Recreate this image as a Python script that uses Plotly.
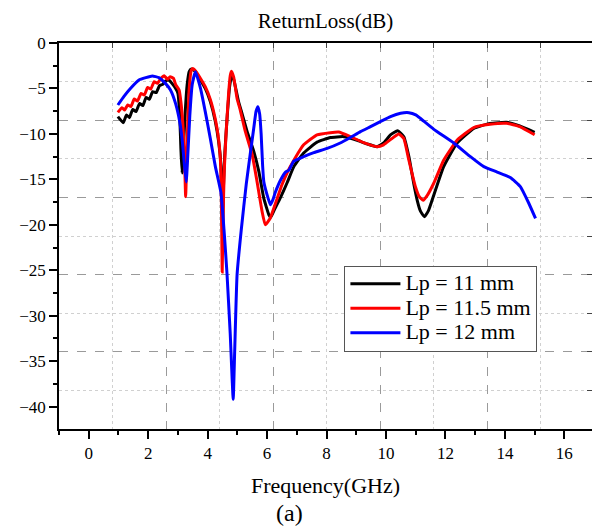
import plotly.graph_objects as go

# ---- data ----
freq_11 = [0.98, 1.16, 1.27, 1.37, 1.48, 1.59, 1.71, 1.82, 1.93, 2.04, 2.15, 2.27, 2.38, 2.49, 2.58, 2.69,
           2.80, 2.92, 3.00, 3.06, 3.10, 3.14, 3.20, 3.26, 3.31, 3.38, 3.45, 3.59, 3.76, 3.92, 4.09, 4.26,
           4.37, 4.45, 4.48, 4.50, 4.53, 4.58, 4.66, 4.74, 4.82, 4.92, 5.04, 5.16, 5.33, 5.55, 5.72, 5.89,
           6.06, 6.12, 6.25, 6.45, 6.67, 6.90, 7.23, 7.68, 8.13, 8.58, 9.03, 9.36, 9.70, 9.92, 10.15, 10.39,
           10.60, 10.77, 10.93, 11.05, 11.16, 11.29, 11.42, 11.55, 11.94, 12.39, 12.95, 13.50, 14.06, 14.50, 15.00]
rl_11 = [-8.10, -8.76, -7.92, -8.21, -7.30, -7.55, -6.64, -6.89, -5.98, -6.20, -5.35, -5.46, -4.69, -4.55, -4.18, -4.07,
         -4.44, -4.99, -5.53, -7.92, -11.6, -14.3, -10.5, -6.82, -4.62, -3.15, -2.86, -3.15, -4.07, -4.99, -6.45, -8.65,
         -10.85, -13.5, -18.0, -21.0, -16.0, -12.0, -8.0, -4.8, -3.3, -4.6, -6.45, -7.8, -9.75, -11.9, -14.1, -17.1,
         -18.9, -19.2, -18.3, -17.0, -15.4, -13.6, -12.1, -10.9, -10.4, -10.3, -10.7, -11.1, -11.4, -11.0, -10.1, -9.64,
         -10.3, -12.5, -15.4, -17.3, -18.5, -19.1, -18.5, -17.3, -13.6, -11.0, -9.39, -8.84, -8.73, -9.13, -9.83]

freq_115 = [0.98, 1.12, 1.21, 1.31, 1.42, 1.53, 1.64, 1.76, 1.87, 1.98, 2.09, 2.20, 2.31, 2.43, 2.54, 2.65,
            2.74, 2.85, 2.93, 3.04, 3.10, 3.16, 3.22, 3.26, 3.32, 3.38, 3.45, 3.50, 3.60, 3.76, 3.92, 4.09,
            4.26, 4.37, 4.44, 4.47, 4.49, 4.52, 4.56, 4.62, 4.70, 4.76, 4.80, 4.88, 4.99, 5.10, 5.27, 5.50,
            5.66, 5.83, 5.94, 6.10, 6.34, 6.50, 6.67, 6.90, 7.23, 7.68, 8.13, 8.41, 8.80, 9.25, 9.70, 9.92,
            10.20, 10.43, 10.60, 10.77, 10.99, 11.12, 11.25, 11.40, 11.61, 11.94, 12.39, 12.95, 13.50, 14.06, 14.50, 15.00]
rl_115 = [-7.63, -7.11, -7.37, -6.82, -7.00, -6.16, -6.38, -5.54, -5.72, -4.88, -5.06, -4.25, -4.44, -3.89, -3.59, -4.00,
          -3.70, -3.89, -4.62, -5.17, -6.45, -8.65, -12.3, -16.9, -10.0, -5.0, -3.0, -2.8, -3.1, -3.9, -4.8, -6.2,
          -8.4, -10.6, -13.5, -19.0, -25.2, -19.0, -14.0, -10.0, -5.8, -3.6, -3.1, -3.8, -6.1, -7.4, -9.75, -12.3,
          -15.2, -18.5, -20.0, -19.3, -17.1, -15.6, -14.3, -12.9, -11.2, -10.1, -9.86, -9.8, -10.3, -10.96, -11.4, -11.2,
          -10.5, -10.0, -10.5, -12.9, -15.8, -16.9, -17.3, -16.7, -15.4, -12.9, -10.7, -9.3, -8.95, -8.84, -9.2, -10.1]

freq_12 = [0.98, 1.18, 1.41, 1.69, 1.92, 2.14, 2.36, 2.58, 2.75, 2.92, 3.06, 3.15, 3.22, 3.28, 3.33, 3.40,
           3.48, 3.59, 3.76, 3.92, 4.09, 4.26, 4.45, 4.55, 4.65, 4.76, 4.86, 4.91, 4.99, 5.13, 5.30, 5.43,
           5.55, 5.63, 5.69, 5.75, 5.80, 5.85, 5.89, 6.00, 6.11, 6.20, 6.28, 6.45, 6.62, 6.73, 6.90, 7.23,
           7.57, 8.02, 8.46, 8.80, 9.14, 9.48, 9.81, 10.15, 10.49, 10.77, 11.00, 11.16, 11.61, 12.28, 12.84, 13.29,
           13.74, 14.18, 14.52, 14.80, 15.03]
rl_12 = [-6.82, -5.90, -4.98, -4.07, -3.81, -3.63, -3.81, -4.44, -5.17, -6.64, -8.65, -10.85, -13.5, -15.3, -12.5, -8.0,
         -4.6, -3.15, -4.99, -7.55, -10.5, -13.6, -16.5, -20.5, -25.3, -32.0, -39.2, -33.9, -25.5, -20.6, -15.5, -12.3,
         -9.4, -7.5, -7.0, -7.8, -10.0, -13.5, -15.25, -16.7, -17.8, -17.2, -16.4, -15.1, -14.2, -14.0, -13.0, -12.5,
         -12.06, -11.6, -11.0, -10.4, -9.75, -9.2, -8.65, -8.1, -7.73, -7.66, -7.9, -8.3, -9.5, -11.0, -12.5, -13.6,
         -14.2, -14.8, -15.8, -17.6, -19.3]

series_names = ["Lp = 11 mm", "Lp = 11.5 mm", "Lp = 12 mm"]
series_colors = ["#000000", "#ff0000", "#0000ff"]

x_ticks = [0, 2, 4, 6, 8, 10, 12, 14, 16]
y_ticks = [0, -5, -10, -15, -20, -25, -30, -35, -40]

FONT = "Liberation Serif, Times New Roman, serif"

fig = go.Figure()
for xs, ys, name, col in zip([freq_11, freq_115, freq_12], [rl_11, rl_115, rl_12], series_names, series_colors):
    fig.add_trace(go.Scatter(x=xs, y=ys, mode="lines",
                             name='<span style="font-size:22px">' + name + '</span>',
                             line=dict(color=col, width=3, shape="spline", smoothing=0.4)))

# invisible trace to activate the overlay grid axes
fig.add_trace(go.Scatter(x=[0], y=[0], xaxis="x2", yaxis="y2", mode="markers",
                         marker=dict(opacity=0), showlegend=False, hoverinfo="skip"))

fig.update_layout(
    width=592, height=527,
    margin=dict(l=59, r=0, t=43, b=98),
    paper_bgcolor="white", plot_bgcolor="white",
    font=dict(family=FONT, size=17, color="black"),
    showlegend=True,
    title=dict(text="ReturnLoss(dB)", x=0.5, xref="paper", xanchor="center",
               y=1 - 21 / 527, yref="container", yanchor="middle",
               font=dict(family=FONT, size=21, color="black")),
    legend=dict(x=0.5355, y=0.4235, xanchor="left", yanchor="top",
                bgcolor="white", bordercolor="#555555", borderwidth=1,
                font=dict(family=FONT, size=16.5, color="black"),
                itemwidth=50, tracegroupgap=0),
    xaxis=dict(range=[-1, 16.93], tickvals=x_ticks, showgrid=False, zeroline=False,
               showline=True, linecolor="black", linewidth=1.5, mirror=True,
               ticks="outside", ticklen=8, tickwidth=1.5, tickcolor="black",
               minor=dict(dtick=1, tick0=1, ticks="outside", ticklen=4, tickwidth=1.5,
                          tickcolor="black", showgrid=False),
               tickfont=dict(family=FONT, size=17)),
    yaxis=dict(range=[-42.46, 0], tickvals=y_ticks, showgrid=False, zeroline=False,
               showline=True, linecolor="black", linewidth=1.5,
               ticks="outside", ticklen=8, tickwidth=1.5, tickcolor="black",
               minor=dict(dtick=2.5, tick0=0, ticks="outside", ticklen=4, tickwidth=1.5,
                          tickcolor="black", showgrid=False),
               tickfont=dict(family=FONT, size=17)),
    xaxis2=dict(overlaying="x", side="top", range=[0, 9.953], dtick=2, tick0=0,
                showticklabels=False, showline=False, zeroline=False,
                showgrid=True, gridcolor="#9a9a9a", gridwidth=1, griddash="dash",
                ticks="inside", ticklen=5, tickcolor="#444444",
                minor=dict(dtick=1, tick0=1, showgrid=True, gridcolor="#d0d0d0", gridwidth=1,
                           griddash="dot", ticks="inside", ticklen=5, tickcolor="#444444")),
    yaxis2=dict(overlaying="y", side="right", range=[0, 10], dtick=2, tick0=0,
                showticklabels=False, showline=False, zeroline=False,
                showgrid=True, gridcolor="#9a9a9a", gridwidth=1, griddash="dash",
                ticks="inside", ticklen=5, tickcolor="#444444",
                minor=dict(dtick=1, tick0=1, showgrid=True, gridcolor="#d0d0d0", gridwidth=1,
                           griddash="dot", ticks="inside", ticklen=5, tickcolor="#444444")),
    annotations=[
        dict(text="Frequency(GHz)", xref="paper", yref="paper", x=0.5, y=-(485 - 429) / 386,
             xanchor="center", yanchor="middle", showarrow=False,
             font=dict(family=FONT, size=22, color="black")),
        dict(text="(a)", xref="paper", yref="paper", x=(289 - 59) / 533, y=-(513 - 429) / 386,
             xanchor="center", yanchor="middle", showarrow=False,
             font=dict(family=FONT, size=24, color="black")),
    ],
)

fig.write_html("out.html")
